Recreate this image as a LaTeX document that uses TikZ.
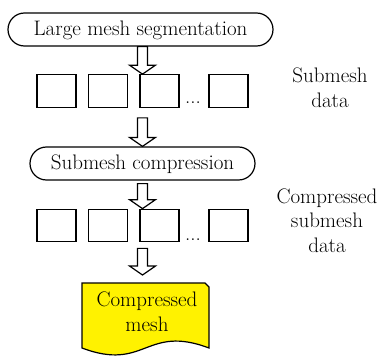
\documentclass[tikz,border=0pt]{standalone}
\usepackage{fontspec}
\usetikzlibrary{calc}

% hollow block arrow from the top of its shaft (#1) down to its tip (#2)
\newcommand\blockarrow[2]{%
  \draw[blockarr] let \p1=#1, \p2=#2 in
    (\x1-5,\y1) -- (\x1-5,\y2+9) -- (\x1-13,\y2+9) -- (\x1,\y2)
    -- (\x1+13,\y2+9) -- (\x1+5,\y2+9) -- (\x1+5,\y1) -- cycle;}

\begin{document}
\begin{tikzpicture}[x=1pt,y=-1pt,
  every node/.style={font=\rmfamily\fontsize{21}{24.5}\selectfont},
  terminal/.style={draw, line width=1.2pt, rounded corners=16.5pt,
    minimum height=33pt, inner sep=0pt, text height=15pt, text depth=3pt},
  databox/.style={draw, line width=1.2pt, minimum width=39pt,
    minimum height=32.5pt, inner sep=0pt},
  blockarr/.style={draw, line width=1.2pt, fill=white, line join=miter},
  docshape/.style={draw, line width=1.2pt, fill=yellow, line join=miter},
  sidetext/.style={anchor=base, align=center, inner sep=0pt},
  dots/.style={anchor=base west, inner sep=0pt}]
\useasboundingbox (0,0) rectangle (381,356);

\coordinate (ax) at (142.5,0);

% process steps
\node[terminal, minimum width=265pt] (seg) at (140.5,29.5) {Large mesh segmentation};
\node[terminal, minimum width=225pt] (cmp) at (142.5,163.5) {Submesh compression};

% output document (multi-line text is placed by the baseline of its last line)
\coordinate (doctop) at (145.5,283);
\draw[docshape] (82,283) -- (205,283) -- (209,287) -- (209,348)
  .. controls (145.5,324) and (145.5,372) .. (82,348) -- cycle;
\node[sidetext] (doc) at (147,331) {Compressed\\mesh};

% submesh data
\node[databox] (b11) at (56.5,91) {};
\node[databox] (b12) at (108,91) {};
\node[databox] (b13) at (159.5,91) {};
\node[databox] (b14) at (228.5,91) {};
\node[dots] (d1) at (185,103) {...};

% compressed submesh data
\node[databox] (b21) at (56.5,225.5) {};
\node[databox] (b22) at (108,225.5) {};
\node[databox] (b23) at (159.5,225.5) {};
\node[databox] (b24) at (228.5,225.5) {};
\node[dots] (d2) at (185,240) {...};

% flow arrows
\blockarrow{(ax |- seg.south)}{(ax |- b13.north)}
\blockarrow{($(ax |- b13.south)+(0,10)$)}{(ax |- cmp.north)}
\blockarrow{($(ax |- cmp.south)+(0,3)$)}{(ax |- b23.north)}
\blockarrow{($(ax |- b23.south)+(0,6)$)}{($(ax |- doctop)+(0,-8)$)}

% side captions
\node[sidetext] (t1) at (330,107) {Submesh\\data};
\node[sidetext] (t2) at (327,252) {Compressed\\submesh\\data};
\end{tikzpicture}
\end{document}
